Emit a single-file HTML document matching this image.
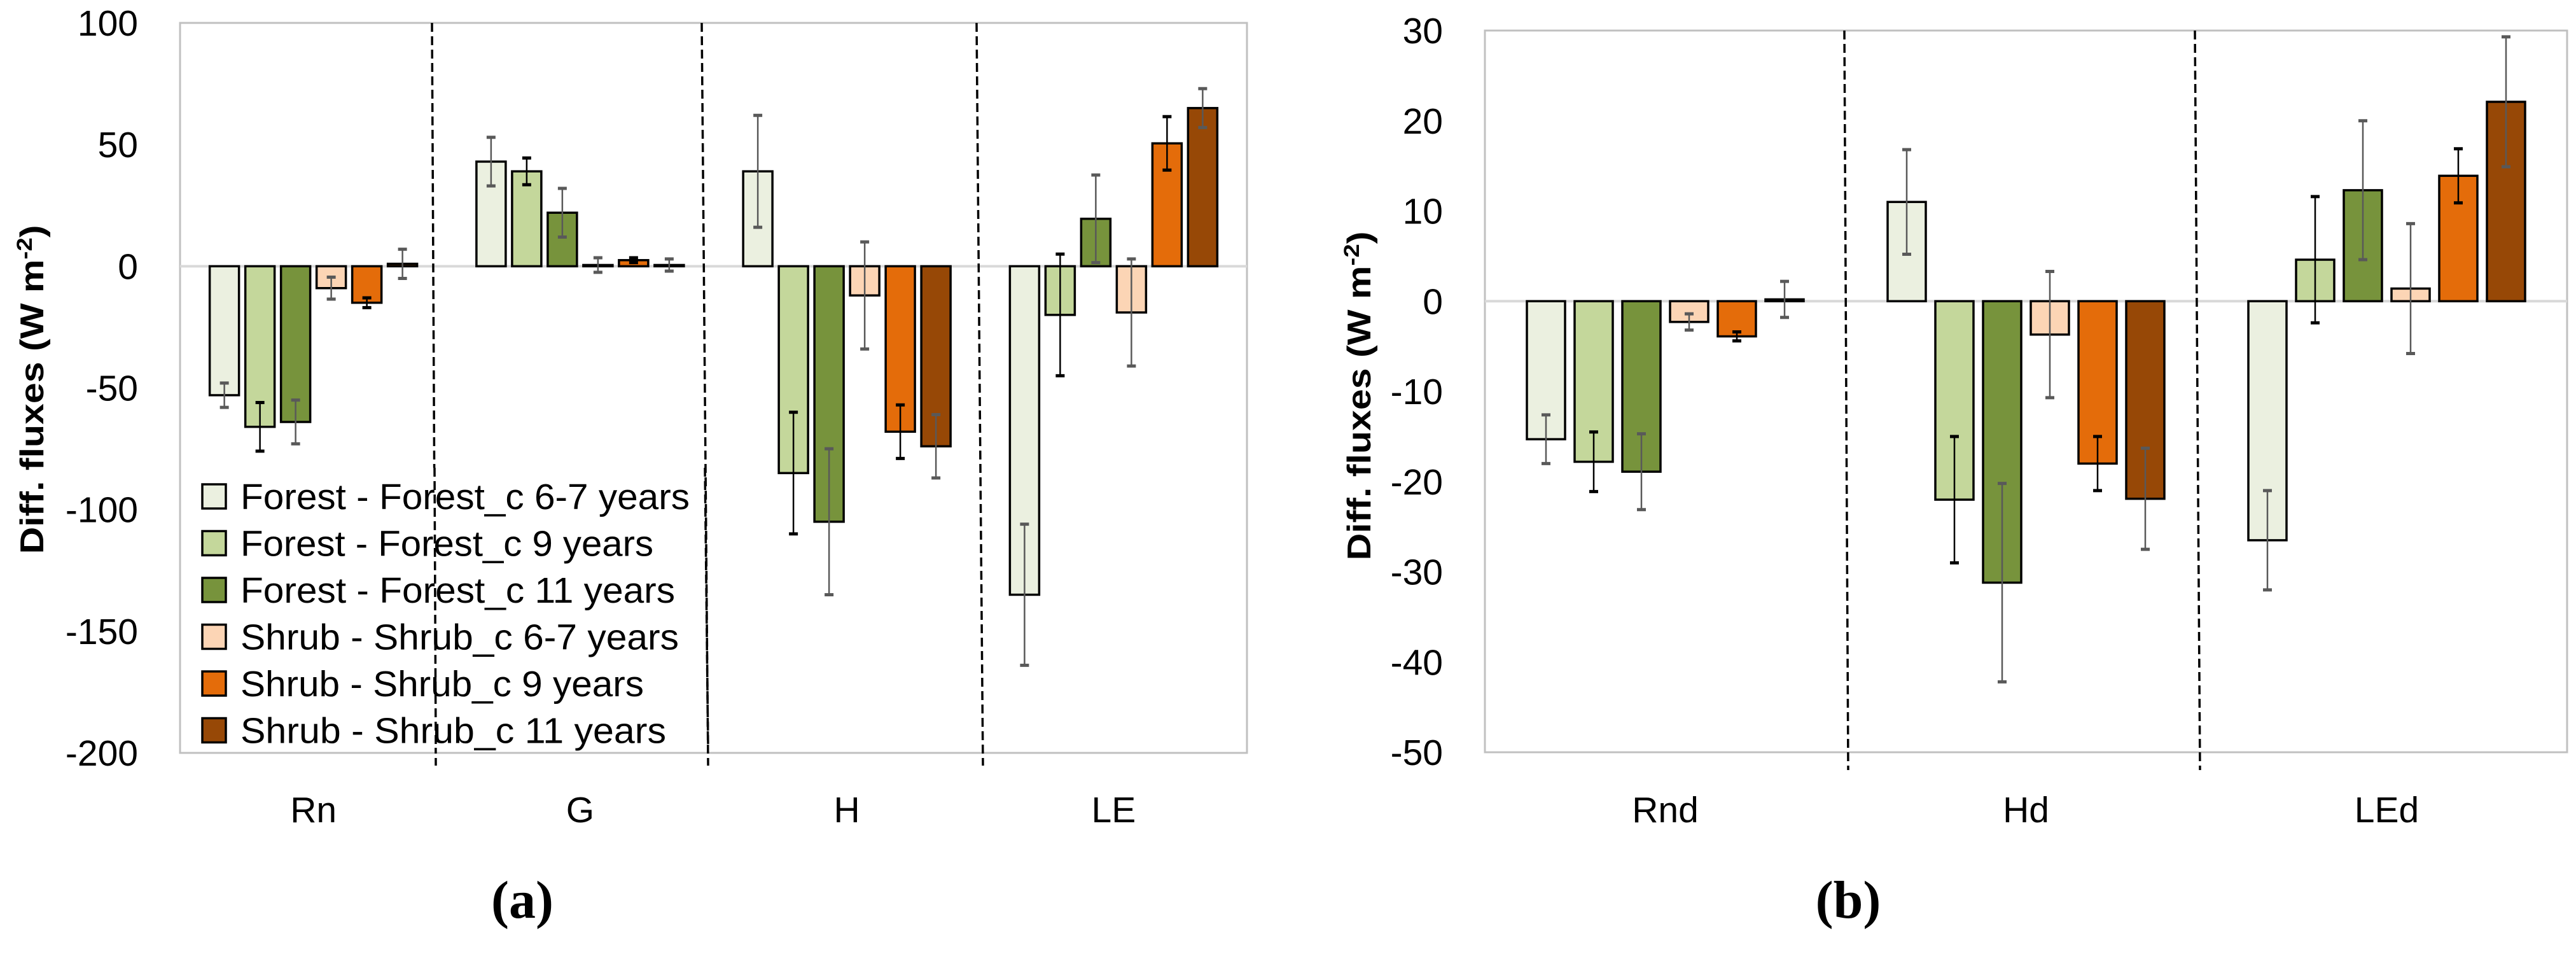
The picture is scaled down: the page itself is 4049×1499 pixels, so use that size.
<!DOCTYPE html>
<html><head><meta charset="utf-8">
<style>
html,body{margin:0;padding:0;background:#fff;}
svg{display:block;}
text{font-family:"Liberation Sans",sans-serif;fill:#000;}
</style></head>
<body>
<svg id="fig" width="4049" height="1499" viewBox="0 0 4049 1499" xmlns="http://www.w3.org/2000/svg"></svg>
<script>
// ---- Data ----
const seriesNames = ["Forest - Forest_c 6-7 years","Forest - Forest_c 9 years","Forest - Forest_c 11 years","Shrub - Shrub_c 6-7 years","Shrub - Shrub_c 9 years","Shrub - Shrub_c 11 years"];
const seriesColors = ["#ebf0e0","#c4d79b","#77933c","#fcd5b5","#e46c0a","#974806"];
const errBlack = [false,true,false,false,true,false];

const catsA = ["Rn","G","H","LE"];
const valsA_f67 = [-53, 43, 39, -135];
const valsA_f9  = [-66, 39, -85, -20];
const valsA_f11 = [-64, 22, -105, 19.5];
const valsA_s67 = [-9, 0.5, -12, -19];
const valsA_s9  = [-15, 2.5, -68, 50.5];
const valsA_s11 = [1, 0.5, -74, 65];
const errA_f67 = [5, 10, 23, 29];
const errA_f9  = [10, 5.5, 25, 25];
const errA_f11 = [9, 10, 30, 18];
const errA_s67 = [4.5, 3, 22, 22];
const errA_s9  = [2, 1, 11, 11];
const errA_s11 = [6, 2.5, 13, 8];
const ticksA = [100, 50, 0, -50, -100, -150, -200];

const catsB = ["Rnd","Hd","LEd"];
const valsB_f67 = [-15.3, 11, -26.5];
const valsB_f9  = [-17.8, -22, 4.6];
const valsB_f11 = [-18.9, -31.2, 12.3];
const valsB_s67 = [-2.3, -3.7, 1.4];
const valsB_s9  = [-3.9, -18, 13.9];
const valsB_s11 = [0.2, -21.9, 22.1];
const errB_f67 = [2.7, 5.8, 5.5];
const errB_f9  = [3.3, 7, 7];
const errB_f11 = [4.2, 11, 7.7];
const errB_s67 = [0.9, 7, 7.2];
const errB_s9  = [0.5, 3, 3];
const errB_s11 = [2, 5.6, 7.2];
const ticksB = [30, 20, 10, 0, -10, -20, -30, -40, -50];

const NS = "http://www.w3.org/2000/svg";
const svg = document.getElementById("fig");
function mk(tag, attrs, parent){
  const e = document.createElementNS(NS, tag);
  for (const k in attrs) e.setAttribute(k, attrs[k]);
  (parent||svg).appendChild(e);
  return e;
}

function drawChart(cfg){
  const g = mk("g", {});
  
  
  const yScale = v => cfg.top + (cfg.yMax - v) * (cfg.bottom - cfg.top) / (cfg.yMax - cfg.yMin);
  const catW = (cfg.right - cfg.left) / cfg.cats.length;
  const xCat = i => cfg.left + catW * (i + 0.5);
  const fr = mk("rect", {x:cfg.left, y:cfg.top, width:cfg.right-cfg.left, height:cfg.bottom-cfg.top, fill:"none", stroke:"#c0c0c0", "stroke-width":3}, g);
  
  
  cfg.ticks.forEach(t => {
    const tx = mk("text", {x:cfg.left-66, y:yScale(t)+20, "text-anchor":"end", "font-size":57}, g);
    tx.textContent = t;
    
    
  });
  const zl = mk("line", {x1:cfg.left, x2:cfg.right, y1:yScale(0), y2:yScale(0), stroke:"#d9d9d9", "stroke-width":4}, g);
  
  
  cfg.dividers.forEach(d => {
    const l = mk("line", {x1:d[0], y1:cfg.top, x2:d[1], y2:cfg.divBottom, stroke:"#000", "stroke-width":3.5, "stroke-dasharray":"14 7"}, g);
    
    
  });
  cfg.vals.forEach((arr, s) => {
    arr.forEach((v, i) => {
      const cx = xCat(i) + (s - 2.5) * cfg.step;
      const y0 = yScale(0), y1 = yScale(v);
      const r = mk("rect", {x:cx-cfg.barW/2, y:Math.min(y0,y1), width:cfg.barW, height:Math.max(Math.abs(y1-y0),1.5), fill:seriesColors[s], stroke:"#000", "stroke-width":3.5}, g);
      
      
      const e = cfg.errs[s][i];
      const col = errBlack[s] ? "#000" : "#595959";
      const eg = mk("g", {}, g);
      
      
      mk("path", {d:`M${cx},${yScale(v+e)}V${yScale(v-e)}`, stroke:col, "stroke-width":2.5, fill:"none"}, eg);
      mk("path", {d:`M${cx-cfg.cap},${yScale(v+e)}H${cx+cfg.cap}M${cx-cfg.cap},${yScale(v-e)}H${cx+cfg.cap}`, stroke:col, "stroke-width":5, fill:"none"}, eg);
    });
  });
  cfg.cats.forEach((c, i) => {
    const t = mk("text", {x:xCat(i), y:1292, "text-anchor":"middle", "font-size":57}, g);
    t.textContent = c;
    
    
  });
  const yt = mk("text", {x:0, y:0, "text-anchor":"middle", "font-size":52, "font-weight":"bold", transform:`translate(${cfg.titleX},${cfg.titleY}) rotate(-90)`, textLength:517, lengthAdjust:"spacingAndGlyphs"}, g);
  yt.innerHTML = 'Diff. fluxes (W m<tspan dy="-18" font-size="34">-2</tspan><tspan dy="18">)</tspan>';
  
  
  const pl = mk("text", {x:cfg.panelX, y:1442, "text-anchor":"middle", "font-size":84, "font-weight":"bold"}, g);
  pl.setAttribute("style", 'font-family:"Liberation Serif",serif');
  pl.textContent = cfg.panel;
  
  
}

drawChart({
  name:"chart-a", left:283, right:1960, top:36, bottom:1183, yMax:100, yMin:-200,
  cats:catsA, vals:[valsA_f67,valsA_f9,valsA_f11,valsA_s67,valsA_s9,valsA_s11],
  errs:[errA_f67,errA_f9,errA_f11,errA_s67,errA_s9,errA_s11],
  ticks:ticksA, step:56, barW:46, cap:7,
  dividers:[[679,685],[1103,1113],[1535,1545]], divBottom:1203,
  titleX:68, titleY:612, panelX:821, panel:"(a)"
});
drawChart({
  name:"chart-b", left:2334, right:4035, top:48, bottom:1182, yMax:30, yMin:-50,
  cats:catsB, vals:[valsB_f67,valsB_f9,valsB_f11,valsB_s67,valsB_s9,valsB_s11],
  errs:[errB_f67,errB_f9,errB_f11,errB_s67,errB_s9,errB_s11],
  ticks:ticksB, step:75, barW:60, cap:7,
  dividers:[[2899,2905],[3450,3458]], divBottom:1210,
  titleX:2154, titleY:622, panelX:2905, panel:"(b)"
});

const legendWidths = [706, 649, 683, 689, 634, 669];
const leg = mk("g", {});


mk("rect", {x:300, y:735, width:800, height:440, fill:"#fff"}, leg);
seriesNames.forEach((n, i) => {
  const cy = 780 + i * 73.5;
  const sw = mk("rect", {x:318, y:cy-19, width:37, height:38, fill:seriesColors[i], stroke:"#000", "stroke-width":3.5}, leg);
  
  
  const t = mk("text", {x:378, y:cy+20, "font-size":57, textLength:legendWidths[i], lengthAdjust:"spacingAndGlyphs"}, leg);
  t.textContent = n;
  
  
});
[[683,685],[1108,1113]].forEach(d => {
  const l = mk("line", {x1:d[0], y1:735, x2:d[1], y2:1175, stroke:"#000", "stroke-width":3.5, "stroke-dasharray":"14 7"}, leg);
  
  
});
</script>
</body></html>
